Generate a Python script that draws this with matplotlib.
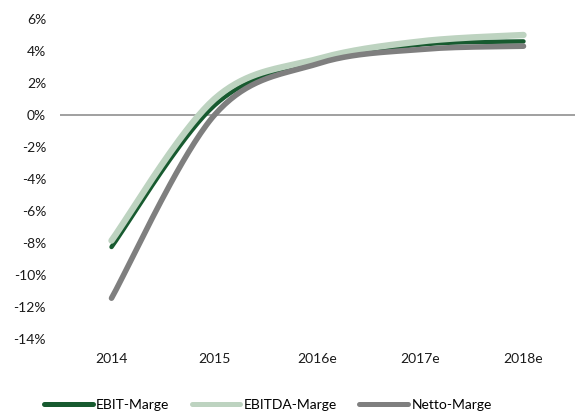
import numpy as np
import matplotlib
matplotlib.use("Agg")
import matplotlib.pyplot as plt
from matplotlib.lines import Line2D

categories = ["2014", "2015", "2016e", "2017e", "2018e"]
ebit = [-8.25, 0.6, 3.35, 4.4, 4.6]
ebitda = [-7.85, 1.0, 3.5, 4.6, 5.0]
netto = [-11.45, 0.0, 3.2, 4.1, 4.3]
yticks = [-14, -12, -10, -8, -6, -4, -2, 0, 2, 4, 6]

colors = {"EBIT-Marge": "#175A2F", "EBITDA-Marge": "#BDD3C0", "Netto-Marge": "#7F7F7F"}
widths = {"EBIT-Marge": 3.2, "EBITDA-Marge": 4.6, "Netto-Marge": 4.0}

plt.rcParams['font.family'] = ['Lato', 'DejaVu Sans']

def smooth(xs, ys, n=40):
    xs = np.asarray(xs, float); ys = np.asarray(ys, float)
    P = np.column_stack([xs, ys])
    out = []
    m = len(P)
    for i in range(m - 1):
        p0 = P[i - 1] if i > 0 else P[i]
        p1 = P[i]; p2 = P[i + 1]
        p3 = P[i + 2] if i + 2 < m else P[i + 1]
        c1 = p1 + (p2 - p0) / 6.0
        c2 = p2 - (p3 - p1) / 6.0
        t = np.linspace(0, 1, n)[:, None]
        seg = (1 - t) ** 3 * p1 + 3 * (1 - t) ** 2 * t * c1 + 3 * (1 - t) * t ** 2 * c2 + t ** 3 * p2
        out.append(seg if i == 0 else seg[1:])
    s = np.vstack(out)
    return s[:, 0], s[:, 1]

fig = plt.figure(figsize=(5.78, 4.16), dpi=100)
ax = fig.add_axes([60 / 578, 1 - 339 / 416, 515 / 578, 320 / 416])

x = np.arange(len(categories))
ax.axhline(0, color="#868686", lw=1.1, zorder=1)
handles = []
for name, vals in [("EBIT-Marge", ebit), ("EBITDA-Marge", ebitda), ("Netto-Marge", netto)]:
    sx, sy = smooth(x, vals)
    ax.plot(sx, sy, color=colors[name], lw=widths[name], solid_capstyle="round", zorder=2)
    handles.append(Line2D([], [], color=colors[name], lw=3.6, solid_capstyle="round", label=name))

ax.set_xlim(-0.5, len(categories) - 0.5)
ax.set_ylim(-14, 6)
ax.set_yticks(yticks)
ax.set_yticklabels([f"{v}%" for v in yticks])
ax.set_xticks(x)
ax.set_xticklabels(categories)
for s in ax.spines.values():
    s.set_visible(False)
ax.tick_params(axis="both", length=0, labelsize=10, colors="#1a1a1a")
ax.tick_params(axis="y", pad=10)
ax.tick_params(axis="x", pad=10)

fig.legend(handles=handles, loc="center left", bbox_to_anchor=(44 / 578, 1 - 405 / 416), ncol=3,
           frameon=False, fontsize=10, handlelength=3.5, handletextpad=0.25, columnspacing=1.6,
           borderpad=0, borderaxespad=0)

fig.savefig("out.png", dpi=100)
